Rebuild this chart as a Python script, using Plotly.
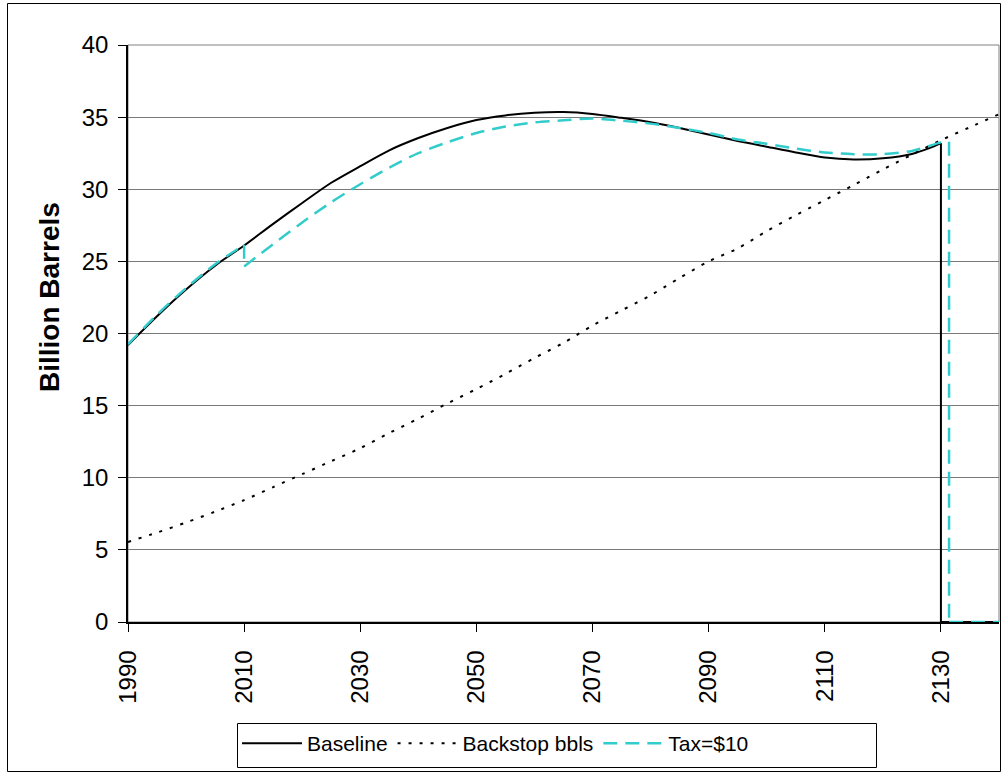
import plotly.graph_objects as go

# ---- data ----
baseline_years = [1990, 1995, 2000, 2005, 2010, 2015, 2020, 2025, 2030, 2035, 2040, 2045,
                  2050, 2055, 2060, 2065, 2070, 2075, 2080, 2085, 2090, 2095, 2100, 2105,
                  2110, 2115, 2120, 2125, 2128, 2130, 2130, 2140]
baseline_vals = [19.2, 21.2, 23.05, 24.7, 26.1, 27.6, 29.05, 30.45, 31.6, 32.7, 33.55, 34.25,
                 34.8, 35.12, 35.3, 35.35, 35.22, 34.95, 34.65, 34.25, 33.8, 33.35, 32.95, 32.55,
                 32.2, 32.07, 32.15, 32.45, 32.85, 33.2, 0, 0]

backstop_years = [1990, 1995, 2000, 2005, 2010, 2015, 2020, 2025, 2030, 2035, 2040, 2045,
                  2050, 2055, 2060, 2065, 2070, 2075, 2080, 2085, 2090, 2095, 2100, 2105,
                  2110, 2115, 2120, 2125, 2130, 2135, 2140]
backstop_vals = [5.55, 6.2, 6.9, 7.65, 8.45, 9.35, 10.25, 11.15, 12.05, 13.1, 14.1, 15.15,
                 16.15, 17.2, 18.3, 19.35, 20.55, 21.6, 22.65, 23.85, 25.0, 25.9, 27.1, 28.2,
                 29.25, 30.3, 31.37, 32.4, 33.4, 34.3, 35.2]

tax_years = [1990, 1995, 2000, 2005, 2010, 2010, 2015, 2020, 2025, 2030, 2035, 2040, 2045,
             2050, 2055, 2060, 2065, 2070, 2075, 2080, 2085, 2090, 2095, 2100, 2105,
             2110, 2115, 2120, 2125, 2128, 2130, 2131.4, 2131.4, 2140]
tax_vals = [19.25, 21.3, 23.15, 24.8, 26.15, 24.65, 26.2, 27.7, 29.1, 30.35, 31.5, 32.5, 33.25,
            33.9, 34.35, 34.63, 34.78, 34.9, 34.75, 34.55, 34.25, 33.9, 33.45, 33.15, 32.82,
            32.55, 32.43, 32.43, 32.65, 33.0, 33.25, 33.3, 0, 0]

x_ticks = [1990, 2010, 2030, 2050, 2070, 2090, 2110, 2130]
y_ticks = [0, 5, 10, 15, 20, 25, 30, 35, 40]

FONT = "Liberation Sans, Arial, sans-serif"
BLACK = "#000000"
CYAN = "#33CCCC"

base_line = dict(color=BLACK, width=2)
back_line = dict(color=BLACK, width=2, dash="3px,8px")
tax_line = dict(color=CYAN, width=2.5, dash="14px,8px")

def split_at_drops(xs, ys):
    """Split a series into pieces wherever the x value repeats (vertical drop)."""
    pieces, start = [], 0
    for i in range(1, len(xs)):
        if xs[i] == xs[i - 1]:
            pieces.append((xs[start:i], ys[start:i]))
            pieces.append((xs[i - 1:i + 1], ys[i - 1:i + 1]))
            start = i
    pieces.append((xs[start:], ys[start:]))
    return pieces

fig = go.Figure()

def add_series(xs, ys, name, line):
    for k, (px_, py_) in enumerate(split_at_drops(xs, ys)):
        smooth = len(px_) > 2
        fig.add_trace(go.Scatter(
            x=px_, y=py_, mode="lines", name=name, legendgroup=name,
            showlegend=(k == 0),
            line=dict(line, shape="spline" if smooth else "linear", smoothing=0.8),
        ))

add_series(baseline_years, baseline_vals, "Baseline", base_line)
add_series(backstop_years, backstop_vals, "Backstop bbls", back_line)
add_series(tax_years, tax_vals, "Tax=$10", tax_line)

L, R, T, B = 128, 999, 45, 622
def px_x(p):
    return (p - L) / (R - L)
def px_y(p):
    return (B - p) / (B - T)

# plot-area border (gray), chart border, legend box
fig.add_shape(type="rect", xref="paper", yref="paper", x0=0, x1=1, y0=0, y1=1,
              line=dict(color="#808080", width=1), layer="below")
fig.add_shape(type="rect", xref="paper", yref="paper",
              x0=px_x(7.5), x1=px_x(1000.5), y0=px_y(771.5), y1=px_y(3.5),
              line=dict(color=BLACK, width=1), layer="below")
fig.add_shape(type="rect", xref="paper", yref="paper",
              x0=px_x(237.5), x1=px_x(876.5), y0=px_y(767.5), y1=px_y(723.5),
              line=dict(color=BLACK, width=1), layer="below")

fig.add_annotation(text="<b>Billion Barrels</b>", xref="paper", yref="paper",
                   x=px_x(49), y=px_y(297), xanchor="center", yanchor="middle",
                   textangle=-90, showarrow=False,
                   font=dict(family=FONT, size=28, color=BLACK))

fig.update_layout(
    width=1007, height=776,
    margin=dict(l=L, r=1007 - R, t=T, b=776 - B),
    paper_bgcolor="#FFFFFF", plot_bgcolor="#FFFFFF",
    font=dict(family=FONT, color=BLACK),
    showlegend=True,
    legend=dict(orientation="h", x=px_x(237), y=px_y(723), xanchor="left", yanchor="top",
                borderwidth=0, bgcolor="rgba(0,0,0,0)",
                font=dict(family=FONT, size=21, color=BLACK),
                itemwidth=60, tracegroupgap=0),
    xaxis=dict(range=[1990, 2140], tickvals=x_ticks, ticktext=[str(v) for v in x_ticks],
               tickangle=-90, ticks="outside", ticklen=8, tickcolor=BLACK,
               showline=True, linecolor=BLACK, linewidth=1.5, showgrid=False,
               zeroline=False, ticklabelstandoff=9,
               tickfont=dict(family=FONT, size=24, color=BLACK)),
    yaxis=dict(range=[0, 40], tickvals=y_ticks, ticks="outside", ticklen=8, tickcolor=BLACK,
               showline=True, linecolor=BLACK, linewidth=1.5, showgrid=True,
               gridcolor="#7a7a7a", gridwidth=1, zeroline=False, ticklabelstandoff=5,
               tickfont=dict(family=FONT, size=24, color=BLACK)),
)

fig.write_html("out.html",
               config={"displayModeBar": False},
               post_script="document.body.style.margin='0px';"
                           "document.body.style.overflow='hidden';")
